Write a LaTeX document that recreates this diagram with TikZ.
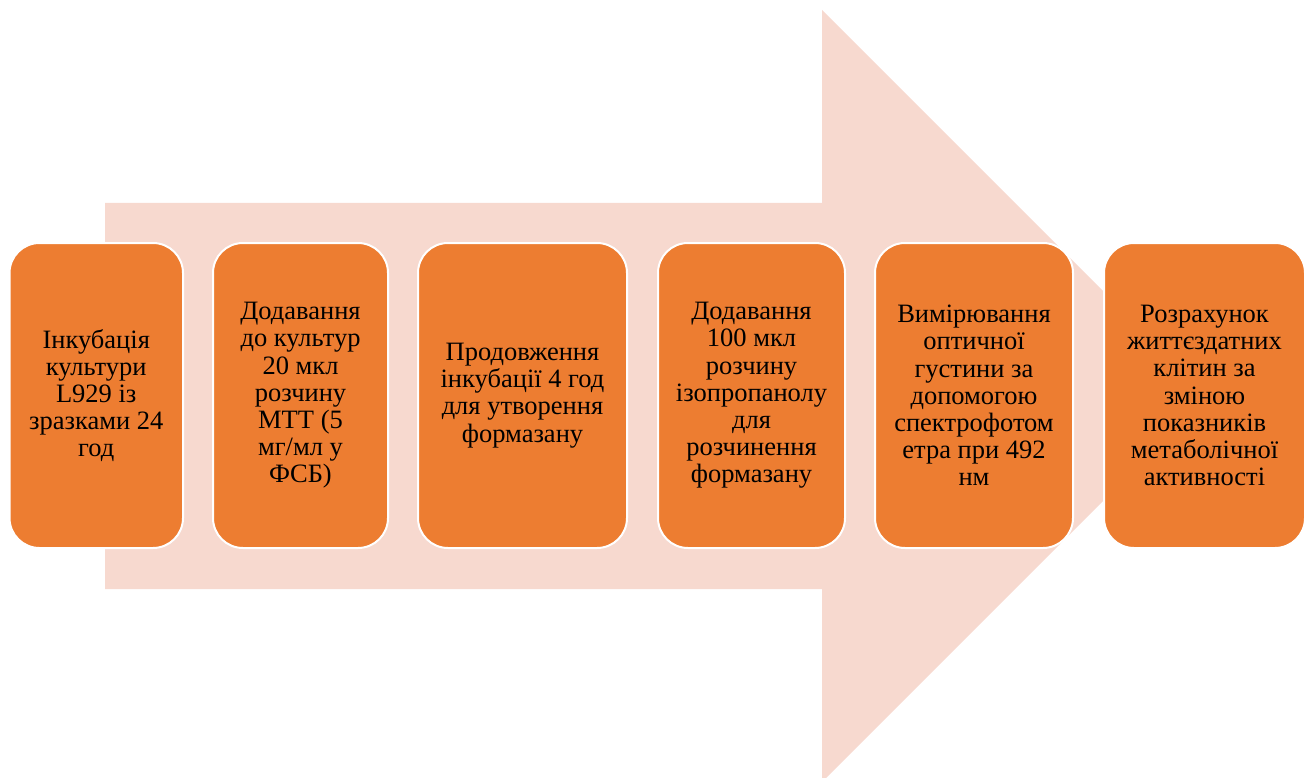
\documentclass[tikz,border=0pt]{standalone}
\usepackage{fontspec}
\setmainfont{Liberation Serif}
\definecolor{stepfill}{HTML}{ED7D31}
\definecolor{arrowfill}{RGB}{247,217,207}
\begin{document}
\begin{tikzpicture}[x=1pt,y=-1pt,
  stepbox/.style={draw=white, line width=2pt, fill=stepfill, rounded corners=30pt,
    minimum height=305pt, inner sep=0pt, align=center, text=black,
    font=\fontsize{26.5}{27.2}\selectfont}]
\useasboundingbox (0,0) rectangle (1309,778);
\clip (0,0) rectangle (1309,778);
\fill[arrowfill] (105,203) -- (822,203) -- (822,10) -- (1208,396) -- (822,782) -- (822,589) -- (105,589) -- cycle;
\node[stepbox, minimum width=173.5pt] (b1) at (96.25,395.5) {Інкубація\\культури\\L929 із\\зразками 24\\год};
\node[stepbox, minimum width=175pt] (b2) at (300.5,395.5) {Додавання\\до культур\\20 мкл\\розчину\\МТТ (5\\мг/мл у\\ФСБ)};
\node[stepbox, minimum width=209pt] (b3) at (522.5,395.5) {Продовження\\інкубації 4 год\\для утворення\\формазану};
\node[stepbox, minimum width=187pt] (b4) at (751.5,395.5) {Додавання\\100 мкл\\розчину\\ізопропанолу\\для\\розчинення\\формазану};
\node[stepbox, minimum width=198pt] (b5) at (974,395.5) {Вимірювання\\оптичної\\густини за\\допомогою\\спектрофотом\\етра при 492\\нм};
\node[stepbox, minimum width=201pt] (b6) at (1204.5,395.5) {Розрахунок\\життєздатних\\клітин за\\зміною\\показників\\метаболічної\\активності};
\end{tikzpicture}
\end{document}
